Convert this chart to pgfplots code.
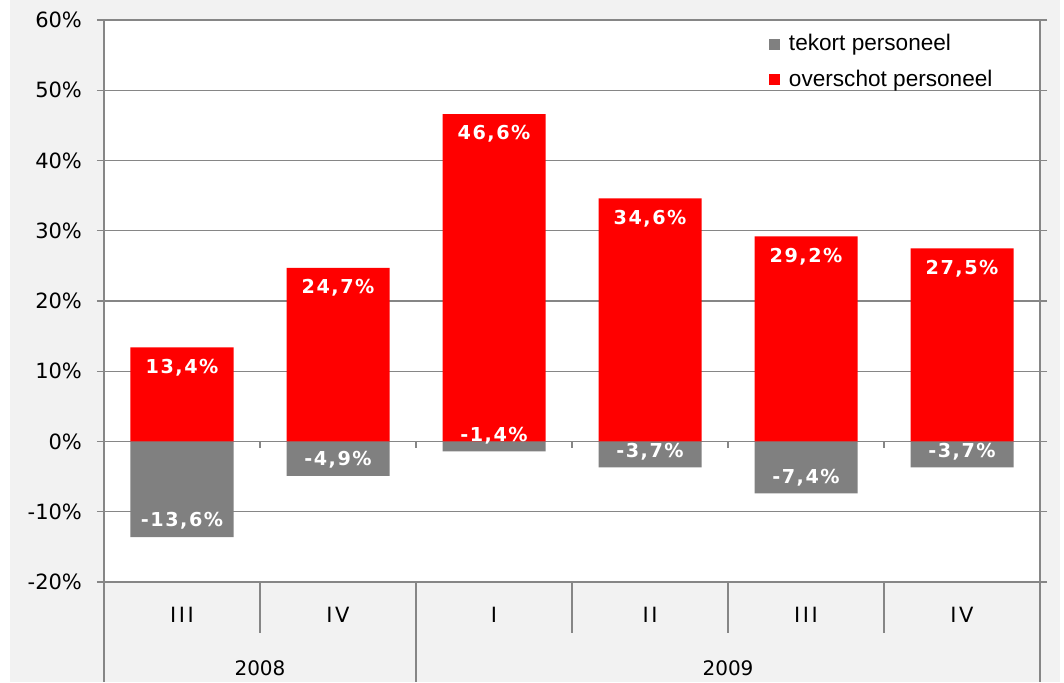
\documentclass[border=0pt]{standalone}
\usepackage{pgfplots}
\pgfplotsset{compat=1.18}
\usepackage{fontspec}
\setmainfont{DejaVu Sans}
\newfontfamily\legfont{Liberation Sans}
\newfontfamily\lblfont[LetterSpace=8]{DejaVu Sans}
\newfontfamily\catfont[LetterSpace=12]{DejaVu Sans}
\definecolor{bg}{HTML}{F2F2F2}
\definecolor{gridc}{RGB}{134,134,134}
\definecolor{tekort}{HTML}{808080}
\definecolor{overschot}{HTML}{FF0000}
\begin{document}
\begin{tikzpicture}
% canvas: 1064x682 px at 0.5pt/px, plot area at px (104..1040, 20..582)
\fill[white] (-52pt,-50pt) rectangle (480pt,291pt);
\fill[bg] (-47pt,-50pt) rectangle (478pt,291pt);
\begin{axis}[
    width=468pt, height=281pt, scale only axis,
    ybar, bar width=51.5pt, bar shift=0pt,
    xmin=-0.5, xmax=5.5, ymin=-20, ymax=60,
    ytick={-20,-10,...,60},
    xtick={0,...,5},
    xticklabels={III,IV,I,II,III,IV},
    x tick style={draw=none},
    y tick style={gridc, line width=0.6pt},
    tick align=outside, major tick length=3.5pt,
    ymajorgrids, grid style={gridc, line width=0.6pt},
    axis line style={gridc, line width=0.6pt},
    axis background/.style={fill=white},
    /pgf/number format/assume math mode=true,
    yticklabel={\pgfmathprintnumber{\tick}\%},
    yticklabel style={font=\fontsize{10.5}{12}\selectfont, xshift=-4pt},
    xticklabel style={font=\catfont\fontsize{10.5}{12}\selectfont, anchor=center, yshift=-13pt},
    clip=false,
    legend style={at={(rel axis cs:0.71,0.982)}, anchor=north west, draw=none, fill=none,
        font=\legfont\fontsize{11.3}{13}\selectfont, row sep=4pt, inner sep=0pt,
        /tikz/every odd column/.append style={column sep=2.5pt}},
    legend cell align=left,
    legend image code/.code={\path[#1] (0pt,-2.75pt) rectangle (5.5pt,2.75pt);},
]
\addplot[fill=tekort, draw=none,
    nodes near coords={\pgfmathprintnumber[fixed,fixed zerofill,precision=1,use comma]{\pgfplotspointmeta}\%},
    every node near coord/.append style={anchor=center, yshift=8pt, text=white,
        font=\lblfont\bfseries\fontsize{9.6}{11}\selectfont}]
    coordinates {(0,-13.6) (1,-4.9) (2,-1.4) (3,-3.7) (4,-7.4) (5,-3.7)};
\addlegendentry{tekort personeel}
\addplot[fill=overschot, draw=none,
    nodes near coords={\pgfmathprintnumber[fixed,fixed zerofill,precision=1,use comma]{\pgfplotspointmeta}\%},
    every node near coord/.append style={anchor=center, yshift=-10pt, text=white,
        font=\lblfont\bfseries\fontsize{9.6}{11}\selectfont}]
    coordinates {(0,13.4) (1,24.7) (2,46.6) (3,34.6) (4,29.2) (5,27.5)};
\addlegendentry{overschot personeel}
% category separators below the plot area
\draw[gridc, line width=0.6pt] (axis cs:0.5,-20) -- ([yshift=-25.5pt]axis cs:0.5,-20);
\draw[gridc, line width=0.6pt] (axis cs:2.5,-20) -- ([yshift=-25.5pt]axis cs:2.5,-20);
\draw[gridc, line width=0.6pt] (axis cs:3.5,-20) -- ([yshift=-25.5pt]axis cs:3.5,-20);
\draw[gridc, line width=0.6pt] (axis cs:4.5,-20) -- ([yshift=-25.5pt]axis cs:4.5,-20);
\draw[gridc, line width=0.6pt] (axis cs:-0.5,-20) -- ([yshift=-50pt]axis cs:-0.5,-20);
\draw[gridc, line width=0.6pt] (axis cs:1.5,-20) -- ([yshift=-50pt]axis cs:1.5,-20);
\draw[gridc, line width=0.6pt] (axis cs:5.5,-20) -- ([yshift=-50pt]axis cs:5.5,-20);
% small ticks on the zero line
\draw[gridc, line width=0.6pt] (axis cs:0.5,0) -- ([yshift=-3.5pt]axis cs:0.5,0);
\draw[gridc, line width=0.6pt] (axis cs:1.5,0) -- ([yshift=-3.5pt]axis cs:1.5,0);
\draw[gridc, line width=0.6pt] (axis cs:2.5,0) -- ([yshift=-3.5pt]axis cs:2.5,0);
\draw[gridc, line width=0.6pt] (axis cs:3.5,0) -- ([yshift=-3.5pt]axis cs:3.5,0);
\draw[gridc, line width=0.6pt] (axis cs:4.5,0) -- ([yshift=-3.5pt]axis cs:4.5,0);
\node[font=\fontsize{10}{12}\selectfont] at ([yshift=-43pt]axis cs:0.5,-20) {2008};
\node[font=\fontsize{10}{12}\selectfont] at ([yshift=-43pt]axis cs:3.5,-20) {2009};
\end{axis}
\end{tikzpicture}
\end{document}
